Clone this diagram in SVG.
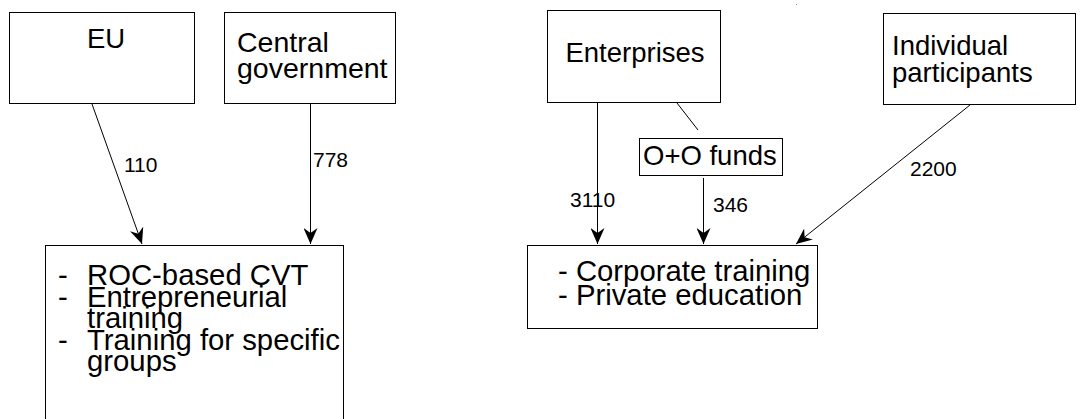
<svg xmlns="http://www.w3.org/2000/svg" width="1080" height="419" viewBox="0 0 1080 419">
<style>
  .box { fill: #ffffff; stroke: #000000; stroke-width: 1; }
  .t { font-family: "Liberation Sans", Arial, sans-serif; font-size: 27.5px; fill: #000000; }
  .tc { font-family: "Liberation Sans", Arial, sans-serif; font-size: 28.5px; fill: #000000; }
  .tl { font-family: "Liberation Sans", Arial, sans-serif; font-size: 29.3px; fill: #000000; }
  .lbl { font-family: "Liberation Sans", Arial, sans-serif; font-size: 21px; fill: #000000; }
  .c { stroke: #000000; stroke-width: 1; fill: none; }
</style>
<defs>
  <marker id="ah" viewBox="0 0 16 14" refX="16" refY="7" markerWidth="16" markerHeight="14" markerUnits="userSpaceOnUse" orient="auto">
    <path d="M0,0 L16,7 L0,14 L5,7 Z" fill="#000000"/>
  </marker>
</defs>
<rect width="1080" height="419" fill="#ffffff"/>
<rect x="796" y="4" width="1" height="1" fill="#888888"/>

<g id="eu">
  <rect class="box" x="9.5" y="12.5" width="185" height="91"/>
  <text class="t" x="106" y="48" text-anchor="middle">EU</text>
</g>
<g id="central-government">
  <rect class="box" x="224.5" y="12.5" width="171" height="91"/>
  <text class="tc" x="237" y="52">Central</text>
  <text class="tc" x="237" y="78">government</text>
</g>
<g id="public-training">
  <rect class="box" x="45.5" y="245.5" width="298" height="180"/>
  <text class="tl" x="58" y="285">-</text>
  <text class="tl" x="87" y="285">ROC-based CVT</text>
  <text class="tl" x="58" y="306.5">-</text>
  <text class="tl" x="87" y="306.5">Entrepreneurial</text>
  <text class="tl" x="87" y="328">training</text>
  <text class="tl" x="58" y="349.5">-</text>
  <text class="tl" x="87" y="349.5">Training for specific</text>
  <text class="tl" x="87" y="371">groups</text>
</g>
<g id="enterprises">
  <rect class="box" x="547.5" y="10.5" width="173" height="92"/>
  <text class="t" x="635" y="62" text-anchor="middle">Enterprises</text>
</g>
<g id="oo-funds">
  <rect class="box" x="639.5" y="138.5" width="143" height="37"/>
  <text class="t" x="643" y="165">O+O funds</text>
</g>
<g id="individual-participants">
  <rect class="box" x="883.5" y="13.5" width="192" height="91"/>
  <text class="t" x="892" y="55">Individual</text>
  <text class="t" x="892" y="82">participants</text>
</g>
<g id="private-training">
  <rect class="box" x="527.5" y="245.5" width="290" height="83"/>
  <text class="tl" x="558" y="281">- Corporate training</text>
  <text class="tl" x="558" y="305">- Private education</text>
</g>

<g id="connectors">
  <line class="c" x1="92" y1="104" x2="142" y2="244" marker-end="url(#ah)"/>
  <text class="lbl" x="124" y="172">110</text>
  <line class="c" x1="310.5" y1="104" x2="310.5" y2="244" marker-end="url(#ah)"/>
  <text class="lbl" x="313" y="167">778</text>
  <line class="c" x1="597.5" y1="103" x2="597.5" y2="244" marker-end="url(#ah)"/>
  <text class="lbl" x="570" y="207">3110</text>
  <line class="c" x1="677" y1="103" x2="698" y2="130"/>
  <line class="c" x1="703.5" y1="178" x2="703.5" y2="244" marker-end="url(#ah)"/>
  <text class="lbl" x="713" y="212">346</text>
  <line class="c" x1="970" y1="105" x2="796" y2="244" marker-end="url(#ah)"/>
  <text class="lbl" x="910" y="176">2200</text>
</g>
</svg>
